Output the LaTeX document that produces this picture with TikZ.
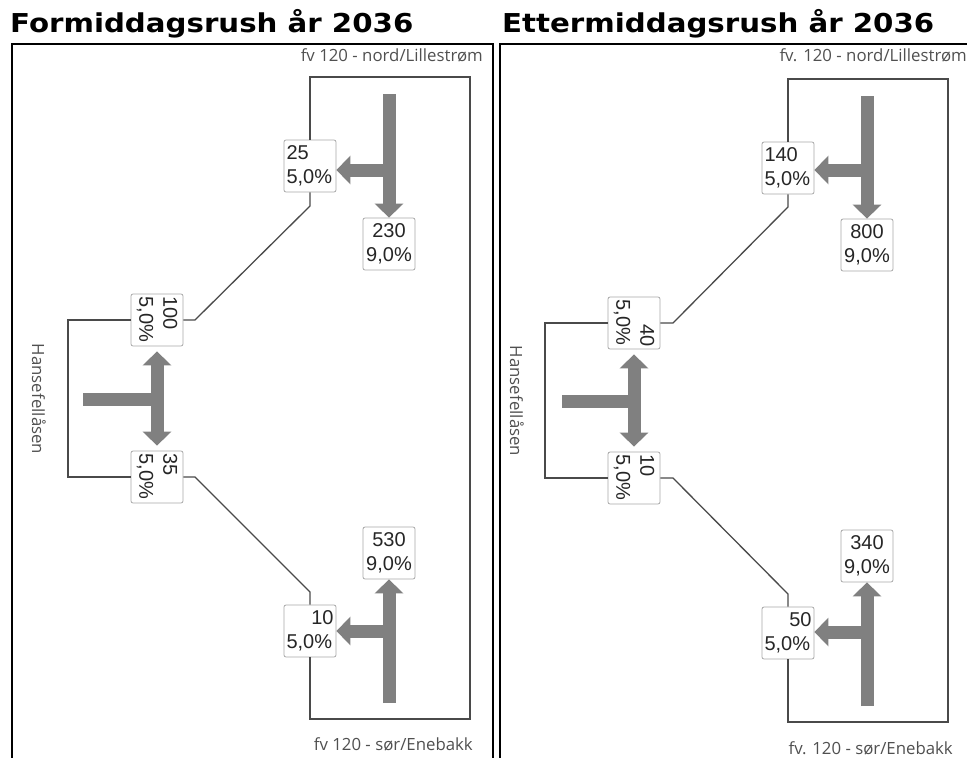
\documentclass[tikz,border=0pt]{standalone}
\usepackage{fontspec}
\usetikzlibrary{arrows.meta}
\newfontfamily\titlefont[FakeStretch=1.125]{DejaVu Sans}
\newfontfamily\roadfont{Open Sans}
\newfontfamily\countfont{Liberation Sans}
\definecolor{roadgray}{HTML}{4A4A4A}
\definecolor{flowgray}{HTML}{808080}
\definecolor{boxgray}{HTML}{A8A8A8}
\definecolor{textgray}{HTML}{505050}
\tikzset{
  frame/.style={draw=black,line width=2.6pt},
  road/.style={draw=roadgray,line width=1.3pt},
  flow/.style={draw=flowgray,line width=13pt,-{Triangle[width=28pt,length=14pt]}},
  twoway/.style={draw=flowgray,line width=13pt,{Triangle[width=28pt,length=14pt]}-{Triangle[width=28pt,length=14pt]},shorten <=5pt,shorten >=5pt},
  bar/.style={draw=flowgray,line width=13pt},
  count/.style={draw=boxgray,fill=white,rounded corners=2pt,line width=0.8pt,
    minimum width=52pt,minimum height=52pt,text width=47pt,inner sep=2.5pt,
    font=\countfont\fontsize{20}{24}\selectfont,text=black!85},
  roadname/.style={font=\roadfont\fontsize{16.8}{19}\selectfont,text=textgray,inner sep=0pt},
  heading/.style={font=\titlefont\bfseries\fontsize{26}{30}\selectfont,inner sep=0pt,anchor=base west}
}
\begin{document}
\begin{tikzpicture}[x=1pt,y=1pt]
  \useasboundingbox (0,0) rectangle (967,-758);
  % headings
  \node[heading] (titleam) at (10,-32) {Formiddagsrush år 2036};
  \node[heading] (titlepm) at (502,-32) {Ettermiddagsrush år 2036};
  % frames
  \draw[frame] (12,-760) -- (12,-44) -- (493,-44) -- (493,-760);
  \draw[frame] (500,-760) -- (500,-44) -- (970,-44);

  % ---------- morning ----------
  \node[roadname,anchor=base east] (northam) at (483,-61) {fv 120 - nord/Lillestrøm};
  \node[roadname,anchor=base east] (southam) at (473,-750) {fv 120 - sør/Enebakk};
  \node[roadname,rotate=-90] (sideam) at (39,-399) {Hansefellåsen};
  % road
  \coordinate (tlam) at (310,-77);
  \coordinate (tram) at (470,-77);
  \coordinate (bram) at (470,-719);
  \coordinate (blam) at (310,-719);
  \coordinate (kinkNam) at (310,-206);
  \coordinate (kinkSam) at (310,-592);
  \coordinate (stubNam) at (195,-320);
  \coordinate (stubSam) at (195,-477);
  \coordinate (forkNam) at (389,-170);
  \coordinate (forkSam) at (389,-631);
  % counts
  \node[count,align=left] (leftNam) at (310,-166) {25\\5,0\%};
  \node[count,align=center] (throughSam) at (389,-244) {230\\9,0\%};
  \node[count,align=left] (leftSam) at (310,-631) {\hfill 10\\5,0\%};
  \node[count,align=center] (throughNam) at (389,-553) {530\\9,0\%};
  \node[count,align=left,rotate=-90] (sideNam) at (157,-320) {100\\5,0\%};
  \node[count,align=left,rotate=-90] (sideSam) at (157,-477) {35\\5,0\%};
  \draw[road] (leftNam.north) -- (tlam) -- (tram) -- (bram) -- (blam) -- (leftSam.south);
  \draw[road] (leftNam.south) -- (kinkNam) -- (stubNam) -- (sideNam.north);
  \draw[road] (leftSam.north) -- (kinkSam) -- (stubSam) -- (sideSam.north);
  \draw[road] (sideNam.south) -- (68,-320) -- (68,-477) -- (sideSam.south);
  % flows
  \draw[flow] (389,-94) -- (throughSam.north);
  \draw[flow] (forkNam) -- (leftNam.east |- forkNam);
  \draw[flow] (389,-703) -- (throughNam.south);
  \draw[flow] (forkSam) -- (leftSam.east |- forkSam);
  \draw[bar] (83,-399) -- (159,-399);
  \draw[twoway] (sideNam.east) -- (sideSam.west);

  % ---------- afternoon ----------
  \node[roadname,anchor=base east] (northpm) at (967,-61) {fv. 120 - nord/Lillestrøm};
  \node[roadname,anchor=base east] (southpm) at (953,-754) {fv. 120 - sør/Enebakk};
  \node[roadname,rotate=-90] (sidepm) at (517,-401) {Hansefellåsen};
  % road
  \coordinate (tlpm) at (788,-79);
  \coordinate (trpm) at (948,-79);
  \coordinate (brpm) at (948,-722);
  \coordinate (blpm) at (788,-722);
  \coordinate (kinkNpm) at (788,-207);
  \coordinate (kinkSpm) at (788,-594);
  \coordinate (stubNpm) at (673,-323);
  \coordinate (stubSpm) at (673,-478);
  \coordinate (forkNpm) at (867,-170);
  \coordinate (forkSpm) at (867,-632);
  % counts
  \node[count,align=left] (leftNpm) at (788,-168) {140\\5,0\%};
  \node[count,align=center] (throughSpm) at (867,-245) {800\\9,0\%};
  \node[count,align=left] (leftSpm) at (788,-633) {\hfill 50\\5,0\%};
  \node[count,align=center] (throughNpm) at (867,-556) {340\\9,0\%};
  \node[count,align=left,rotate=-90] (sideNpm) at (634,-323) {\hfill 40\\5,0\%};
  \node[count,align=left,rotate=-90] (sideSpm) at (634,-478) {10\\5,0\%};
  \draw[road] (leftNpm.north) -- (tlpm) -- (trpm) -- (brpm) -- (blpm) -- (leftSpm.south);
  \draw[road] (leftNpm.south) -- (kinkNpm) -- (stubNpm) -- (sideNpm.north);
  \draw[road] (leftSpm.north) -- (kinkSpm) -- (stubSpm) -- (sideSpm.north);
  \draw[road] (sideNpm.south) -- (545,-323) -- (545,-478) -- (sideSpm.south);
  % flows
  \draw[flow] (867,-96) -- (throughSpm.north);
  \draw[flow] (forkNpm) -- (leftNpm.east |- forkNpm);
  \draw[flow] (867,-706) -- (throughNpm.south);
  \draw[flow] (forkSpm) -- (leftSpm.east |- forkSpm);
  \draw[bar] (562,-401) -- (637,-401);
  \draw[twoway] (sideNpm.east) -- (sideSpm.west);
\end{tikzpicture}
\end{document}
